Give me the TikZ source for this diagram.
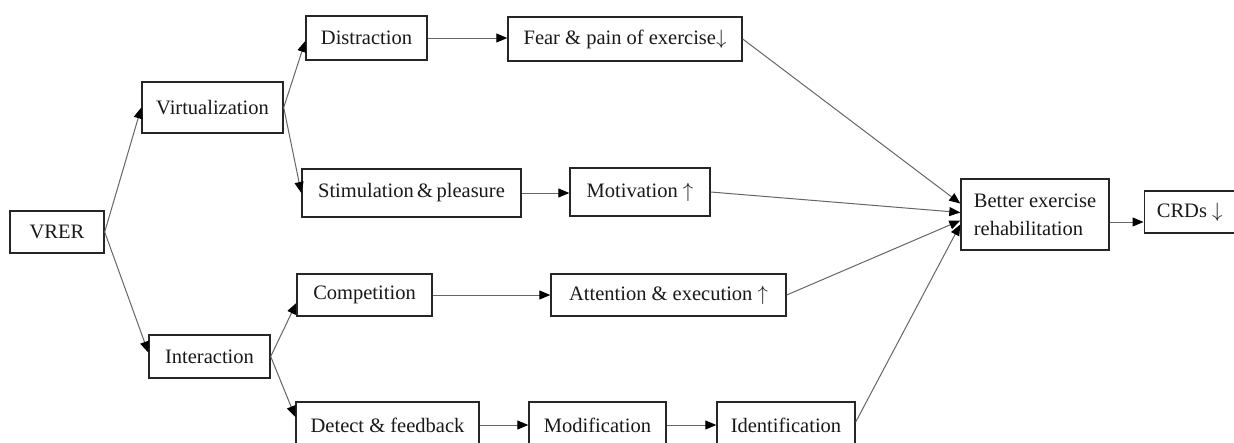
\documentclass[tikz,border=0pt]{standalone}
\usepackage{fontspec}
\setmainfont{Liberation Serif}
\usetikzlibrary{arrows.meta}
\begin{document}
\begin{tikzpicture}[x=1pt,y=-1pt,
  box/.style={draw=black!85, line width=1.4pt, inner sep=0pt, text=black!90,
    font=\fontsize{20.5}{24}\selectfont},
  arr/.style={draw=black!60, line width=1pt, -{Triangle[length=11pt,width=9pt,fill=black,color=black]}}]
\path[use as bounding box, clip] (0,0) rectangle (1234,442);
\fill[white] (0,0) rectangle (1234,442);
% nodes
\node[box, minimum width=94pt, minimum height=42pt] (vrer) at (57,232) {VRER};
\node[box, minimum width=141pt, minimum height=51pt] (virt) at (212.5,107.5) {Virtualization};
\node[box, minimum width=121pt, minimum height=43pt] (inter) at (209.5,356.5) {Interaction};
\node[box, minimum width=121pt, minimum height=44pt] (dist) at (366.5,38) {Distraction};
\node[box, minimum width=219pt, minimum height=48pt] (stim) at (411.5,193) {Stimulation\,\&\,pleasure};
\node[box, minimum width=135pt, minimum height=42pt] (comp) at (364.5,295) {Competition};
\node[box, minimum width=183pt, minimum height=46pt] (detect) at (387.5,425) {Detect \& feedback};
\node[box, minimum width=234pt, minimum height=44pt] (fear) at (625,39) {Fear \& pain of exercise$\downarrow$};
\node[box, minimum width=140pt, minimum height=48pt] (motiv) at (640,192) {Motivation $\uparrow$};
\node[box, minimum width=235pt, minimum height=42pt] (att) at (668.5,295) {Attention \& execution $\uparrow$};
\node[box, minimum width=137pt, minimum height=46pt] (modif) at (597.5,425) {Modification};
\node[box, minimum width=138pt, minimum height=46pt] (ident) at (786,425) {Identification};
\node[box, minimum width=148pt, minimum height=71pt, align=left,
  font=\fontsize{20.5}{28}\selectfont] (better) at (1035,214.5) {Better exercise\\rehabilitation};
\node[box, minimum width=97pt, minimum height=42pt, anchor=west] (crds) at (1143.5,212) {\hspace*{-6pt}CRDs $\downarrow$};
% connectors
\draw[arr] (vrer.east) -- (virt.west);
\draw[arr] (vrer.east) -- ([yshift=4pt]inter.west);
\draw[arr] (virt.east) -- ([yshift=-3pt]dist.west);
\draw[arr] (virt.east) -- (stim.west);
\draw[arr] (inter.east) -- ([yshift=-8pt]comp.west);
\draw[arr] (inter.east) -- ([yshift=8pt]detect.west);
\draw[arr] (dist.east) -- (dist.east -| fear.west);
\draw[arr] (stim.east) -- (stim.east -| motiv.west);
\draw[arr] (comp.east) -- (comp.east -| att.west);
\draw[arr] (detect.east) -- (detect.east -| modif.west);
\draw[arr] (modif.east) -- (modif.east -| ident.west);
\draw[arr] (fear.east) -- ([yshift=11pt]better.west);
\draw[arr] (motiv.east) -- ([yshift=2pt]better.west);
\draw[arr] (att.east) -- ([yshift=-6pt]better.west);
\draw[arr] ([yshift=3pt]ident.east) -- ([yshift=-10pt]better.west);
\coordinate (bc) at ([yshift=-7.5pt]better.east);
\draw[arr] (bc) -- (bc -| crds.west);
\end{tikzpicture}
\end{document}
